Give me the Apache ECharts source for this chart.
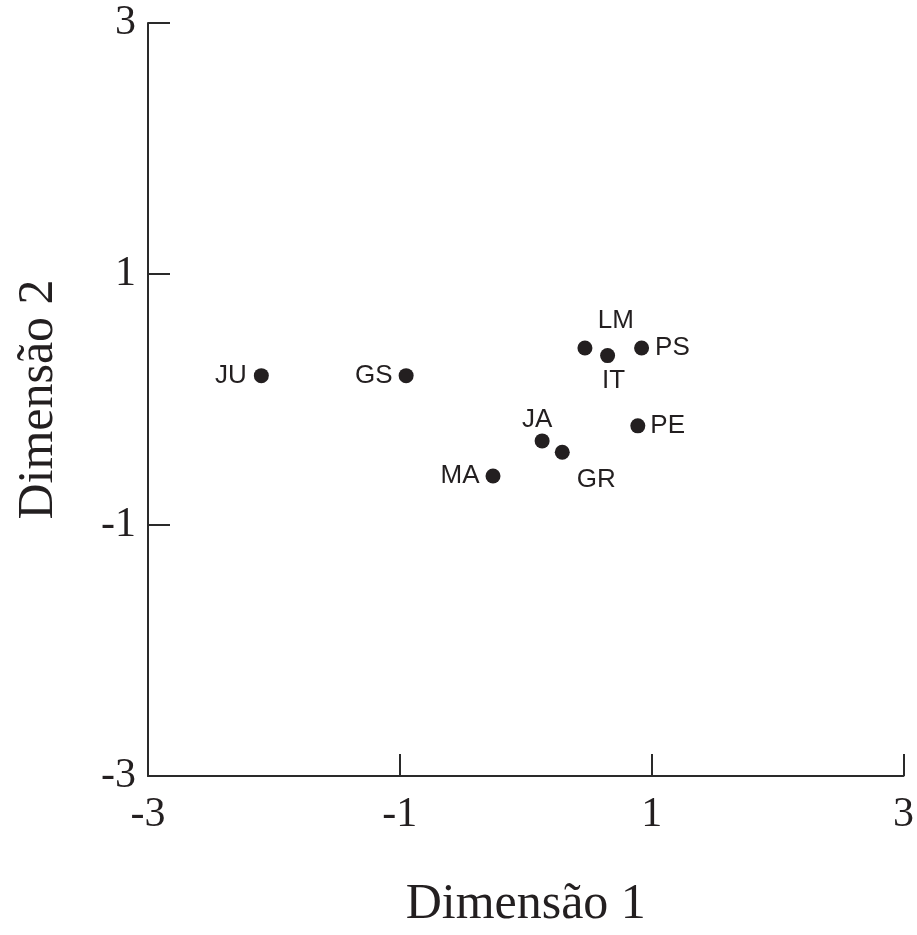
<!DOCTYPE html>
<html>
<head>
<meta charset="utf-8">
<script src="https://cdn.jsdelivr.net/npm/echarts@6/dist/echarts.min.js"></script>
<style>html,body{margin:0;padding:0;background:#fff}#c{width:917px;height:935px}</style>
</head>
<body>
<div id="c"></div>
<script>
const names = ['JU','GS','LM','IT','PS','PE','JA','GR','MA'];
const dim1 = [-2.10,-0.95,0.47,0.65,0.92,0.89,0.13,0.29,-0.26];
const dim2 = [0.19,0.19,0.41,0.35,0.41,-0.21,-0.33,-0.42,-0.61];
const xTicks = [-3,-1,1,3];
const yTicks = [-3,-1,1,3];

const labelCfg = {
  JU:{position:'left',distance:7},
  GS:{position:'left',distance:6},
  LM:{position:'top',offset:[31,-2]},
  IT:{position:'bottom',offset:[6,0]},
  PS:{position:'right',distance:6},
  PE:{position:'right',distance:5},
  JA:{position:'top',offset:[-5,4]},
  GR:{position:'bottom',offset:[34,2]},
  MA:{position:'left',distance:6}
};

const data = names.map((n,i)=>({name:n,value:[dim1[i],dim2[i]],label:Object.assign({show:true},labelCfg[n])}));

const chart = echarts.init(document.getElementById('c'));
const axisCommon = {
  min:-3,max:3,interval:2,
  nameLocation:'middle',
  nameTextStyle:{fontFamily:'Liberation Serif',fontSize:50,color:'#231f20'},
  axisLine:{show:true,onZero:false,lineStyle:{color:'#2a2a2a',width:2}},
  axisTick:{show:true,inside:true,length:22,lineStyle:{color:'#2a2a2a',width:2}},
  splitLine:{show:false},
  axisLabel:{fontFamily:'Liberation Serif',fontSize:42,color:'#231f20'}
};
chart.setOption({
  animation:false,
  grid:{left:148,right:13,top:23,bottom:154,containLabel:false},
  xAxis:Object.assign({},axisCommon,{type:'value',name:'Dimensão 1',nameGap:104,
    axisLabel:Object.assign({},axisCommon.axisLabel,{margin:18,formatter:v=>xTicks.includes(v)?String(v):''})}),
  yAxis:Object.assign({},axisCommon,{type:'value',name:'Dimensão 2',nameGap:84,
    axisLabel:Object.assign({},axisCommon.axisLabel,{margin:12,formatter:v=>yTicks.includes(v)?String(v):''})}),
  series:[{
    type:'scatter',
    symbol:'circle',
    symbolSize:15,
    itemStyle:{color:'#231f20',opacity:1},
    label:{fontFamily:'Liberation Sans',fontSize:26,color:'#231f20',formatter:'{b}'},
    data:data
  }]
});
</script>
</body>
</html>
